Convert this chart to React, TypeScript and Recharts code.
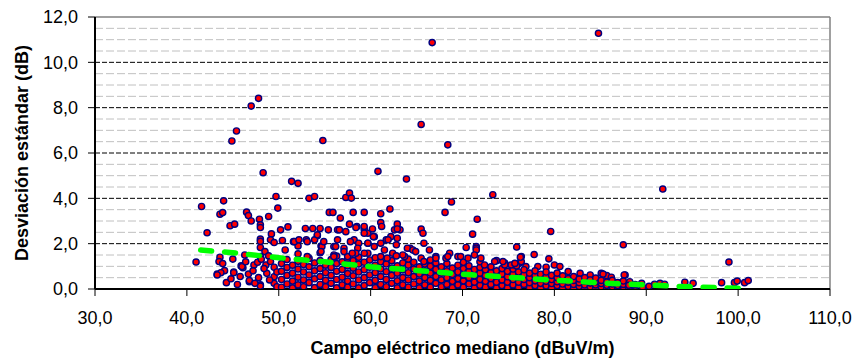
import { ScatterChart, Scatter, XAxis, YAxis, ReferenceLine, Label } from "recharts";

type Pt = [number, number];

const xTicks = [30, 40, 50, 60, 70, 80, 90, 100, 110];
const yTicks = [0, 2, 4, 6, 8, 10, 12];
const majorGrid = [2, 4, 6, 8, 10];
const minorGrid = [0.5, 1, 1.5, 2.5, 3, 3.5, 4.5, 5, 5.5, 6.5, 7, 7.5, 8.5, 9, 9.5, 10.5, 11, 11.5];

// isolated high values
const outliers: Pt[] = [
  [47.8, 8.41], [47.0, 8.07], [45.4, 6.97], [44.9, 6.53], [54.8, 6.55], [66.7, 10.87],
  [84.8, 11.28], [65.5, 7.26], [68.4, 6.36], [48.3, 5.13], [60.8, 5.19], [63.9, 4.85],
  [51.4, 4.75], [52.1, 4.66], [91.8, 4.41], [73.3, 4.16], [53.3, 4.0], [53.9, 4.08],
  [49.7, 4.08], [57.3, 4.04], [57.7, 4.23], [57.9, 4.01], [44.0, 3.89], [68.8, 3.84],
  [41.6, 3.64], [49.9, 3.57], [99.0, 1.19], [87.5, 1.95], [79.6, 2.54],
];

// scattered values between ~1.4 and 3.5 dB
const upperBand: Pt[] = [
  [43.6, 3.3], [43.9, 3.37], [46.5, 3.39], [46.7, 3.24], [47.9, 3.08], [48.9, 3.2], [47.0, 3.0],
  [48.0, 2.83], [48.0, 2.71], [44.7, 2.79], [45.2, 2.86], [42.2, 2.48], [52.9, 2.67], [53.7, 2.67],
  [54.5, 2.67], [51.0, 2.74], [50.2, 2.61], [54.2, 2.35], [49.2, 2.43], [48.0, 2.2], [48.0, 2.1],
  [49.1, 2.17], [50.4, 2.14], [49.5, 2.05], [51.6, 2.09], [52.1, 1.9], [53.0, 2.17], [53.9, 2.17],
  [54.6, 1.9], [55.5, 3.38], [68.1, 3.38], [55.9, 3.38], [56.7, 3.13], [58.1, 3.38], [59.3, 3.38],
  [61.1, 3.32], [62.1, 3.53], [61.1, 2.93], [61.2, 2.76], [62.9, 2.86], [63.2, 2.61], [62.6, 2.61],
  [71.6, 3.08], [71.1, 2.42], [55.4, 2.61], [56.4, 2.61], [57.3, 2.53], [57.7, 2.86], [58.5, 2.76],
  [59.3, 2.64], [59.7, 2.46], [60.4, 2.31], [65.5, 2.64], [65.7, 2.46], [65.8, 2.02], [56.4, 2.17],
  [58.2, 2.17], [58.7, 2.02], [59.7, 2.02], [61.7, 2.17], [62.2, 2.31], [62.8, 1.95], [71.5, 1.87],
  [75.9, 1.85], [64.3, 1.8], [70.4, 1.83], [71.5, 1.8], [56.0, 1.87], [60.4, 1.87], [54.7, 1.87],
  [56.6, 2.61], [58.4, 2.71], [59.3, 2.76], [60.2, 2.65], [62.9, 2.65], [54.2, 2.39], [59.3, 2.46],
  [60.3, 2.31], [61.9, 2.17], [62.9, 2.24], [64.0, 1.8], [64.6, 1.72], [66.4, 1.72], [68.6, 1.58],
  [71.5, 1.72], [51.7, 2.09], [52.2, 2.17], [53.1, 2.09], [54.9, 2.09], [56.2, 1.87], [57.1, 1.8],
  [57.8, 2.09], [58.6, 1.8], [59.7, 2.02], [61.1, 2.02], [61.5, 1.72], [50.7, 1.72], [53.1, 1.43],
  [54.6, 1.65], [56.0, 1.5], [57.5, 1.43], [58.4, 1.58], [59.7, 1.58], [61.1, 1.43], [62.4, 1.58],
  [63.7, 1.43], [65.5, 1.36], [67.1, 1.43], [68.2, 1.36], [69.5, 1.43], [70.6, 1.36], [72.0, 1.36],
  [64.9, 1.65], [65.8, 1.21], [67.1, 1.36], [68.4, 1.43], [69.8, 1.43], [71.3, 1.5], [56.0, 1.43],
  [57.1, 1.65], [58.0, 1.58], [59.3, 1.58], [61.8, 1.36], [62.8, 1.46], [63.5, 1.5], [77.8, 1.52],
  [79.4, 1.33], [76.3, 1.4], [73.7, 1.25], [74.4, 1.21], [73.5, 1.21], [75.7, 1.13],
];

// lower field strengths, left of the main cloud
const leftBand: Pt[] = [
  [41.0, 1.19], [43.6, 1.4], [43.5, 1.21], [43.9, 1.12], [44.1, 0.81], [43.3, 0.66], [43.7, 0.72],
  [44.3, 0.28], [45.1, 0.75], [45.9, 1.02], [46.1, 0.94], [46.7, 0.66], [46.8, 0.32], [47.3, 1.06],
  [47.7, 1.18], [48.0, 1.43], [48.1, 1.31], [48.6, 1.06], [47.8, 0.5], [48.0, 0.18], [48.0, 1.83],
  [48.5, 1.65], [48.9, 1.46], [49.1, 1.21], [49.5, 0.96], [48.7, 0.69], [49.5, 0.54], [49.5, 0.25],
  [43.3, 0.62], [45.1, 0.72], [46.0, 0.99], [46.8, 0.37], [48.0, 0.13], [44.8, 0.45], [45.5, 0.2],
  [45.8, 0.55], [46.4, 1.2], [47.2, 0.8], [47.4, 0.25], [48.4, 0.9], [49.0, 0.4], [49.8, 0.75],
  [49.8, 0.1], [45.0, 1.32], [46.3, 1.5],
];

// dense cloud below ~1.3 dB
const coreBand: Pt[] = [
  [50.3, 0.08], [50.3, 0.42], [50.3, 0.78], [50.3, 1.12], [50.9, 0.22], [50.9, 0.6], [50.9, 0.95], [50.9, 1.3],
  [51.5, 0.05], [51.5, 0.35], [51.5, 0.7], [51.5, 1.05], [52.1, 0.18], [52.1, 0.52], [52.1, 0.88], [52.1, 1.22],
  [52.1, 1.55], [52.7, 0.1], [52.7, 0.4], [52.7, 0.75], [52.7, 1.08], [53.3, 0.28], [53.3, 0.62], [53.3, 0.98],
  [53.3, 1.35], [53.9, 0.06], [53.9, 0.45], [53.9, 0.8], [53.9, 1.15], [54.5, 0.2], [54.5, 0.55], [54.5, 0.9],
  [54.5, 1.25], [54.5, 1.6], [55.1, 0.1], [55.1, 0.38], [55.1, 0.72], [55.1, 1.05], [55.7, 0.25], [55.7, 0.6],
  [55.7, 0.95], [55.7, 1.3], [56.3, 0.05], [56.3, 0.42], [56.3, 0.78], [56.3, 1.12], [56.3, 1.45], [56.9, 0.18],
  [56.9, 0.52], [56.9, 0.86], [56.9, 1.2], [57.5, 0.08], [57.5, 0.35], [57.5, 0.68], [57.5, 1.02], [57.5, 1.35],
  [58.1, 0.22], [58.1, 0.58], [58.1, 0.92], [58.1, 1.25], [58.7, 0.05], [58.7, 0.4], [58.7, 0.75], [58.7, 1.1],
  [58.7, 1.4], [59.3, 0.15], [59.3, 0.5], [59.3, 0.85], [59.3, 1.18], [59.9, 0.28], [59.9, 0.62], [59.9, 0.96],
  [59.9, 1.28], [60.5, 0.06], [60.5, 0.38], [60.5, 0.72], [60.5, 1.05], [60.5, 1.38], [61.1, 0.2], [61.1, 0.55],
  [61.1, 0.88], [61.1, 1.2], [61.7, 0.1], [61.7, 0.42], [61.7, 0.76], [61.7, 1.1], [62.3, 0.25], [62.3, 0.6],
  [62.3, 0.92], [62.3, 1.25], [62.9, 0.05], [62.9, 0.36], [62.9, 0.7], [62.9, 1.02], [63.5, 0.18], [63.5, 0.5],
  [63.5, 0.84], [63.5, 1.15], [64.1, 0.08], [64.1, 0.4], [64.1, 0.72], [64.1, 1.05], [64.1, 1.32], [64.7, 0.22],
  [64.7, 0.55], [64.7, 0.88], [64.7, 1.18], [65.3, 0.05], [65.3, 0.35], [65.3, 0.66], [65.3, 0.98], [65.9, 0.18],
  [65.9, 0.5], [65.9, 0.8], [65.9, 1.1], [66.5, 0.08], [66.5, 0.38], [66.5, 0.7], [66.5, 1.0], [66.5, 1.28],
  [67.1, 0.25], [67.1, 0.55], [67.1, 0.86], [67.1, 1.15], [67.7, 0.1], [67.7, 0.4], [67.7, 0.7], [67.7, 0.98],
  [68.3, 0.2], [68.3, 0.5], [68.3, 0.8], [68.3, 1.12], [68.9, 0.06], [68.9, 0.34], [68.9, 0.64], [68.9, 0.92],
  [69.5, 0.18], [69.5, 0.46], [69.5, 0.75], [69.5, 1.05], [70.1, 0.08], [70.1, 0.36], [70.1, 0.62], [70.1, 0.9],
  [70.1, 1.18], [70.7, 0.22], [70.7, 0.5], [70.7, 0.78], [70.7, 1.02], [71.3, 0.05], [71.3, 0.3], [71.3, 0.58],
  [71.3, 0.86], [71.9, 0.16], [71.9, 0.42], [71.9, 0.7], [71.9, 0.95], [71.9, 1.2], [72.5, 0.08], [72.5, 0.34],
  [72.5, 0.6], [72.5, 0.85], [73.1, 0.2], [73.1, 0.46], [73.1, 0.72], [73.1, 0.98], [73.7, 0.05], [73.7, 0.3],
  [73.7, 0.56], [73.7, 0.8], [74.3, 0.15], [74.3, 0.4], [74.3, 0.66], [74.3, 0.9], [74.9, 0.06], [74.9, 0.3],
  [74.9, 0.54], [74.9, 0.78], [75.5, 0.18], [75.5, 0.42], [75.5, 0.65], [75.5, 0.88], [76.1, 0.08], [76.1, 0.3],
  [76.1, 0.52], [76.1, 0.75],
];

// thinning cloud towards high field strengths
const tailBand: Pt[] = [
  [76.4, 1.43], [76.2, 1.14], [75.7, 1.06], [74.6, 1.14], [80.0, 1.06], [80.6, 0.99], [81.5, 0.77],
  [82.8, 0.69], [83.9, 0.62], [85.1, 0.69], [85.7, 0.59], [86.2, 0.52], [87.7, 0.62], [88.2, 0.32],
  [89.5, 0.25], [90.9, 0.21], [91.5, 0.25], [92.0, 0.21], [94.2, 0.3], [95.1, 0.25], [98.2, 0.28],
  [99.6, 0.28], [99.9, 0.35], [100.7, 0.28], [101.1, 0.37], [72.4, 1.06], [75.3, 1.06], [75.9, 1.02],
  [76.4, 1.21], [76.9, 0.99], [78.2, 0.99], [79.1, 0.96], [85.3, 0.66], [87.6, 0.62], [74.6, 1.06],
  [76.7, 0.2], [76.7, 0.42], [76.7, 0.62], [76.7, 0.85], [77.3, 0.06], [77.3, 0.28], [77.3, 0.5], [77.3, 0.7],
  [77.9, 0.15], [77.9, 0.36], [77.9, 0.58], [77.9, 0.8], [78.5, 0.05], [78.5, 0.25], [78.5, 0.45], [78.5, 0.65],
  [79.1, 0.14], [79.1, 0.34], [79.1, 0.55], [79.1, 0.75], [79.7, 0.06], [79.7, 0.24], [79.7, 0.42], [79.7, 0.6],
  [80.3, 0.15], [80.3, 0.32], [80.3, 0.5], [80.3, 0.7], [80.9, 0.05], [80.9, 0.22], [80.9, 0.4], [80.9, 0.58],
  [81.5, 0.12], [81.5, 0.3], [81.5, 0.46], [82.1, 0.05], [82.1, 0.2], [82.1, 0.38], [82.1, 0.55], [82.7, 0.12],
  [82.7, 0.28], [82.7, 0.44], [83.3, 0.05], [83.3, 0.18], [83.3, 0.34], [83.3, 0.5], [83.9, 0.1], [83.9, 0.26],
  [83.9, 0.4], [84.5, 0.05], [84.5, 0.18], [84.5, 0.32], [84.5, 0.48], [85.1, 0.1], [85.1, 0.24], [85.1, 0.38],
  [85.7, 0.05], [85.7, 0.16], [85.7, 0.3], [86.3, 0.1], [86.3, 0.22], [86.3, 0.38], [86.9, 0.05], [86.9, 0.15],
  [86.9, 0.28], [87.5, 0.1], [87.5, 0.2], [87.5, 0.35], [88.1, 0.05], [88.1, 0.16], [88.8, 0.12], [88.8, 0.2],
  [89.6, 0.08], [90.3, 0.12],
];

// green dashed trend
const trendLine: Pt[] = [
  [41.5, 1.72], [45, 1.6], [50, 1.38], [55, 1.2], [60, 0.98], [65, 0.82], [70, 0.65],
  [75, 0.52], [80, 0.39], [85, 0.27], [90, 0.18], [95, 0.09], [100.5, 0.03],
];

const toPoints = (pts: Pt[]) => pts.map(([x, y]) => ({ x, y }));
const measured = toPoints([...leftBand, ...coreBand, ...tailBand, ...upperBand, ...outliers]);
const trend = toPoints(trendLine);

const FONT = '"Liberation Sans", Arial, sans-serif';
const fmt = (v: number) => v.toFixed(1).replace(".", ",");

const RedDot = (props: any) => {
  const { cx, cy } = props;
  if (cx == null || cy == null) return <g />;
  return <circle cx={cx} cy={cy} r={3.1} fill="#ff0000" stroke="#000080" strokeWidth={1.4} />;
};

const NoDot = () => <g />;

const YTitle = (props: any) => {
  const vb = props.viewBox;
  const cx = vb.x + 22;
  const cy = vb.y + vb.height / 2;
  return (
    <text
      x={cx}
      y={cy}
      transform={`rotate(-90, ${cx}, ${cy})`}
      textAnchor="middle"
      dominantBaseline="central"
      fontFamily={FONT}
      fontSize={18}
      fontWeight="bold"
      fill="#000"
    >
      Desviación estándar (dB)
    </text>
  );
};

const XTitle = (props: any) => {
  const vb = props.viewBox;
  return (
    <text
      x={vb.x + vb.width / 2}
      y={354}
      textAnchor="middle"
      fontFamily={FONT}
      fontSize={18}
      fontWeight="bold"
      fill="#000"
    >
      Campo eléctrico mediano (dBuV/m)
    </text>
  );
};

export default function App() {
  return (
    <div style={{ position: "absolute", left: 0, top: 0, width: 854, height: 360, background: "#fff" }}>
      <ScatterChart width={854} height={360} margin={{ top: 17, right: 24, bottom: 0, left: 0 }}>
        {minorGrid.map((v) => (
          <ReferenceLine key={`mi${v}`} y={v} stroke="#c0c0c0" strokeDasharray="8 3" />
        ))}
        {majorGrid.map((v) => (
          <ReferenceLine key={`ma${v}`} y={v} stroke="#000" strokeDasharray="5 2" />
        ))}
        <ReferenceLine y={12} stroke="#808080" strokeWidth={1.5} />
        <ReferenceLine x={110} stroke="#808080" strokeWidth={1.5} />
        <XAxis
          type="number"
          dataKey="x"
          domain={[30, 110]}
          ticks={xTicks}
          tickFormatter={fmt}
          height={71}
          axisLine={{ stroke: "#000", strokeWidth: 2 }}
          tickLine={{ stroke: "#000" }}
          tickSize={7}
          tickMargin={15}
          tick={{ fill: "#000", fontSize: 18, fontFamily: FONT }}
          allowDataOverflow
        >
          <Label content={XTitle} />
        </XAxis>
        <YAxis
          type="number"
          dataKey="y"
          domain={[0, 12]}
          ticks={yTicks}
          tickFormatter={fmt}
          width={95}
          axisLine={{ stroke: "#000", strokeWidth: 2 }}
          tickLine={{ stroke: "#000" }}
          tickSize={7}
          tickMargin={10}
          tick={{ fill: "#000", fontSize: 18, fontFamily: FONT }}
          allowDataOverflow
        >
          <Label content={YTitle} />
        </YAxis>
        <Scatter data={measured} shape={RedDot} isAnimationActive={false} />
        <Scatter
          data={trend}
          shape={NoDot}
          line={{ stroke: "#00ff00", strokeWidth: 5.5, strokeDasharray: "11 13", strokeLinecap: "round" }}
          lineType="joint"
          isAnimationActive={false}
        />
      </ScatterChart>
    </div>
  );
}
